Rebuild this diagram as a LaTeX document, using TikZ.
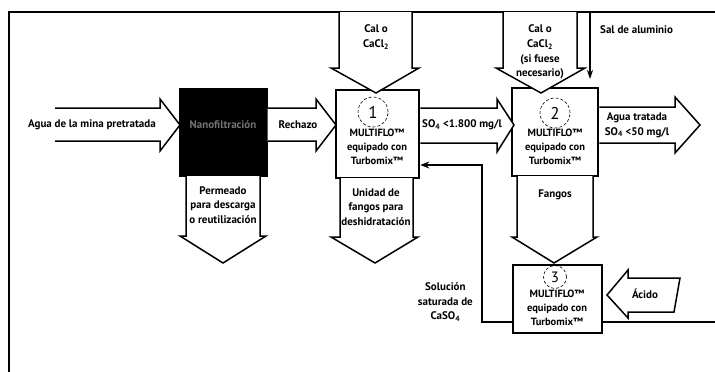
\documentclass[tikz,border=0pt]{standalone}
\usepackage{fontspec}
\setmainfont{PT Sans}
\usetikzlibrary{arrows.meta,calc}
\begin{document}
\begin{tikzpicture}[x=1pt,y=-1pt,
  blk/.style={draw=black,line width=1.5pt,fill=white,line join=miter},
  unit/.style={draw=black,line width=2.6pt,fill=white,inner sep=0pt},
  txt/.style={font=\fontsize{11}{14.8}\selectfont\bfseries,align=center,inner sep=0pt},
  boxtxt/.style={font=\fontsize{10.5}{13.8}\selectfont\bfseries,align=center,inner sep=0pt},
  num/.style={draw=black,densely dashed,line width=0.6pt,circle,minimum size=30pt,inner sep=0pt,font=\fontsize{17}{17}\selectfont}
]
\useasboundingbox (0,0) rectangle (715,372);
% frame
\draw[line width=1.8pt] (9,372) -- (9,12) -- (715,12);

% units
\node[draw=black,fill=black,line width=1pt,minimum width=88pt,minimum height=88pt,inner sep=0pt] (ro) at (223,132) {};
\node[unit,minimum width=83pt,minimum height=88pt] (m1) at (377.5,134) {};
\node[unit,minimum width=86pt,minimum height=88pt] (m2) at (555,132) {};
\node[unit,minimum width=89pt,minimum height=68pt] (m3) at (557.5,299) {};

% horizontal block arrows
\draw[blk] (55,108) -- (160,108) -- (160,99) -- (180,125) -- (160,151) -- (160,141) -- (55,141);
\draw[blk] (ro.east |- 0,108) -- (316,108) -- (316,99) -- (336,125) -- (316,151) -- (316,141) -- (ro.east |- 0,141);
\draw[blk] (m1.east |- 0,108) -- (497,108) -- (497,99) -- (514,125) -- (497,152) -- (497,143) -- (m1.east |- 0,143);
\draw[blk] (m2.east |- 0,107) -- (675,107) -- (675,97) -- (700,125) -- (675,153) -- (675,143) -- (m2.east |- 0,143);

% top block arrows
\draw[blk] (339,12) -- (339,68) -- (331,68) -- (376,93) -- (419,68) -- (412,68) -- (412,12);
\draw[blk] (503,12) -- (503,68) -- (496,68) -- (541,93) -- (585,68) -- (577,68) -- (577,12);
\coordinate (salTop) at (590,12);
\coordinate (salEnd) at (590,79);
\draw[line width=1.2pt,-{Stealth[length=9pt,width=6pt]}] (salTop) -- (salEnd);

% down block arrows
\draw[blk] (186,176) -- (186,236) -- (180,236) -- (223,263) -- (266,236) -- (260,236) -- (260,176);
\draw[blk] (340,178) -- (340,237) -- (331,237) -- (375,263) -- (418,237) -- (413,237) -- (413,178);
\draw[blk] (517,176) -- (517,237) -- (512,237) -- (554,263) -- (597,237) -- (593,237) -- (593,176);

% acid arrow
\draw[blk] (607,295) -- (628,270) -- (628,278) -- (680,278) -- (674,312) -- (628,312) -- (628,318) -- cycle;

% recirculation lines
\coordinate (rc1) at (482,322);
\coordinate (rc2) at (482,165);
\draw[line width=1.4pt,-{Stealth[length=9pt,width=7pt]}] (m3.west |- rc1) -- (rc1) -- (rc2) -- (m1.east |- rc2);
\coordinate (outR) at (715,322);
\draw[line width=1.4pt] (m3.east |- outR) -- (outR);

% number circles
\node[num] (c1) at (373,112) {1};
\node[num] (c2) at (555,113) {2};
\node[num,minimum size=23pt,font=\fontsize{15}{15}\selectfont] (c3) at (555,277) {3};

% texts
\node[txt,anchor=west] (tin) at (28,125) {Agua de la mina pretratada};
\node[txt] (tro) at (223,125) {\color{black!55}Nanofiltración};
\node[txt] (trech) at (298,125) {Rechazo};
\node[txt] (tso) at (462,125) {SO\textsubscript{4} <1.800 mg/l};
\node[txt] (tout) at (637,125) {Agua tratada\\SO\textsubscript{4} <50 mg/l};
\node[txt] (tcal1) at (376,37) {Cal o\\CaCl\textsubscript{2}};
\node[txt] (tcal2) at (540,52) {Cal o\\CaCl\textsubscript{2}\\(si fuese\\necesario)};
\node[txt,anchor=west] (tsal) at (600,30) {Sal de aluminio};
\node[txt] (tperm) at (223,205) {Permeado\\para descarga\\o reutilización};
\node[txt] (tunid) at (376,207) {Unidad de\\fangos para\\deshidratación};
\node[txt] (tfan) at (555,195) {Fangos};
\node[txt] (tac) at (645,294) {Ácido};
\node[txt,anchor=east] (tsol) at (473,302) {Solución\\saturada de\\CaSO\textsubscript{4}};
\node[boxtxt] (b1) at (377,147) {MULTIFLO™\\equipado con\\Turbomix™};
\node[boxtxt] (b2) at (555,147) {MULTIFLO™\\equipado con\\Turbomix™};
\node[boxtxt] (b3) at (557,308) {MULTIFLO™\\equipado con\\Turbomix™};
\end{tikzpicture}
\end{document}
